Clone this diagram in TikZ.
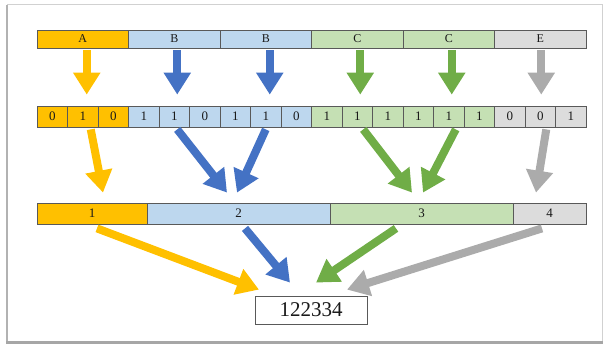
\documentclass[tikz,border=0pt]{standalone}
\usepackage{fontspec}
\setmainfont{Liberation Serif}
\usetikzlibrary{arrows.meta}
\definecolor{gold}{HTML}{FFC000}
\definecolor{paleblue}{HTML}{BDD7EE}
\definecolor{palegreen}{HTML}{C5E0B4}
\definecolor{palegray}{HTML}{DCDCDC}
\definecolor{deepblue}{HTML}{4472C4}
\definecolor{deepgreen}{HTML}{70AD47}
\definecolor{midgray}{HTML}{ABABAB}
\newcommand{\scale}{1}

\begin{document}
\begin{tikzpicture}[x = \scale pt, y = -\scale pt,
  cell/.style = {draw = black!65, line width = 0.8pt, inner sep = 0pt, text = black!90},
  seg/.style = {cell, minimum width = 91.5pt, minimum height = 18pt, font = \fontsize{12}{12}\selectfont},
  bit/.style = {cell, minimum width = 30.5pt, minimum height = 21pt, font = \fontsize{13}{13}\selectfont},
  part/.style = {cell, minimum height = 21pt, font = \fontsize{13}{13}\selectfont},
  arr/.style = {line width = 8pt, -{Triangle[width = 26pt, length = 22pt]}}]
\useasboundingbox (0,0) rectangle (609,347);
\draw [black!18, line width = 1pt] (7,5) rectangle (602,341);
\draw [black!30, line width = 2pt] (7,5) -- (7,342);
\draw [black!35, line width = 3pt] (6,342) -- (603,342);

\node [seg, fill = gold] (t1) at (82.75,39) {A};
\node [seg, fill = paleblue] (t2) at (174.25,39) {B};
\node [seg, fill = paleblue] (t3) at (265.75,39) {B};
\node [seg, fill = palegreen] (t4) at (357.25,39) {C};
\node [seg, fill = palegreen] (t5) at (448.75,39) {C};
\node [seg, fill = palegray] (t6) at (540.25,39) {E};

\node [bit, fill = gold] (m1) at (52.25,116.5) {0};
\node [bit, fill = gold] (m2) at (82.75,116.5) {1};
\node [bit, fill = gold] (m3) at (113.25,116.5) {0};
\node [bit, fill = paleblue] (m4) at (143.75,116.5) {1};
\node [bit, fill = paleblue] (m5) at (174.25,116.5) {1};
\node [bit, fill = paleblue] (m6) at (204.75,116.5) {0};
\node [bit, fill = paleblue] (m7) at (235.25,116.5) {1};
\node [bit, fill = paleblue] (m8) at (265.75,116.5) {1};
\node [bit, fill = paleblue] (m9) at (296.25,116.5) {0};
\node [bit, fill = palegreen] (m10) at (326.75,116.5) {1};
\node [bit, fill = palegreen] (m11) at (357.25,116.5) {1};
\node [bit, fill = palegreen] (m12) at (387.75,116.5) {1};
\node [bit, fill = palegreen] (m13) at (418.25,116.5) {1};
\node [bit, fill = palegreen] (m14) at (448.75,116.5) {1};
\node [bit, fill = palegreen] (m15) at (479.25,116.5) {1};
\node [bit, fill = palegray] (m16) at (509.75,116.5) {0};
\node [bit, fill = palegray] (m17) at (540.25,116.5) {0};
\node [bit, fill = palegray] (m18) at (570.75,116.5) {1};

\node [part, fill = gold, minimum width = 110pt] (p1) at (92,213.5) {1};
\node [part, fill = paleblue, minimum width = 183pt] (p2) at (238.5,213.5) {2};
\node [part, fill = palegreen, minimum width = 183pt] (p3) at (421.5,213.5) {3};
\node [part, fill = palegray, minimum width = 73pt] (p4) at (549.5,213.5) {4};

\node [cell, minimum width = 112pt, minimum height = 28pt, fill = white, font = \fontsize{21}{21}\selectfont] (res) at (311,310) {122334};

\draw [arr, gold] ([xshift = 4pt, yshift = -2pt]t1.south) -- ([xshift = 4pt, yshift = 11pt]m2.north);
\draw [arr, deepblue] ([xshift = 3pt, yshift = -2pt]t2.south) -- ([xshift = 3pt, yshift = 11pt]m5.north);
\draw [arr, deepblue] ([xshift = 4pt, yshift = -2pt]t3.south) -- ([xshift = 4pt, yshift = 11pt]m8.north);
\draw [arr, deepgreen] ([xshift = 3pt, yshift = -2pt]t4.south) -- ([xshift = 3pt, yshift = 11pt]m11.north);
\draw [arr, deepgreen] ([xshift = 3pt, yshift = -2pt]t5.south) -- ([xshift = 3pt, yshift = 11pt]m14.north);
\draw [arr, midgray] ([xshift = 1pt, yshift = -2pt]t6.south) -- ([xshift = 1pt, yshift = 11pt]m17.north);

\draw [arr, gold] ([xshift = 8pt, yshift = -2pt]m2.south) -- ([xshift = 11pt, yshift = 10pt]p1.north);
\draw [arr, deepblue] ([xshift = 3pt, yshift = -2pt]m5.south) -- ([xshift = -11.5pt, yshift = 10pt]p2.north);
\draw [arr, deepblue] ([xshift = 0pt, yshift = -2pt]m8.south) -- ([xshift = -1.5pt, yshift = 10pt]p2.north);
\draw [arr, deepgreen] ([xshift = 6pt, yshift = -2pt]m11.south) -- ([xshift = -9.5pt, yshift = 10pt]p3.north);
\draw [arr, deepgreen] ([xshift = 7pt, yshift = -2pt]m14.south) -- ([xshift = 1.5pt, yshift = 10pt]p3.north);
\draw [arr, midgray] ([xshift = 6pt, yshift = -2pt]m17.south) -- ([xshift = -13.5pt, yshift = 10pt]p4.north);

\draw [arr, gold] ([xshift = 5pt, yshift = -4pt]p1.south) -- ([xshift = -52pt, yshift = 6pt]res.north);
\draw [arr, deepblue] ([xshift = 6.5pt, yshift = -4pt]p2.south) -- ([xshift = -21pt, yshift = 13pt]res.north);
\draw [arr, deepgreen] ([xshift = -25.5pt, yshift = -4pt]p3.south) -- ([xshift = 5pt, yshift = 13pt]res.north);
\draw [arr, midgray] ([xshift = -7.5pt, yshift = -4pt]p4.south) -- ([xshift = 36pt, yshift = 6pt]res.north);
\end{tikzpicture}
\end{document}
